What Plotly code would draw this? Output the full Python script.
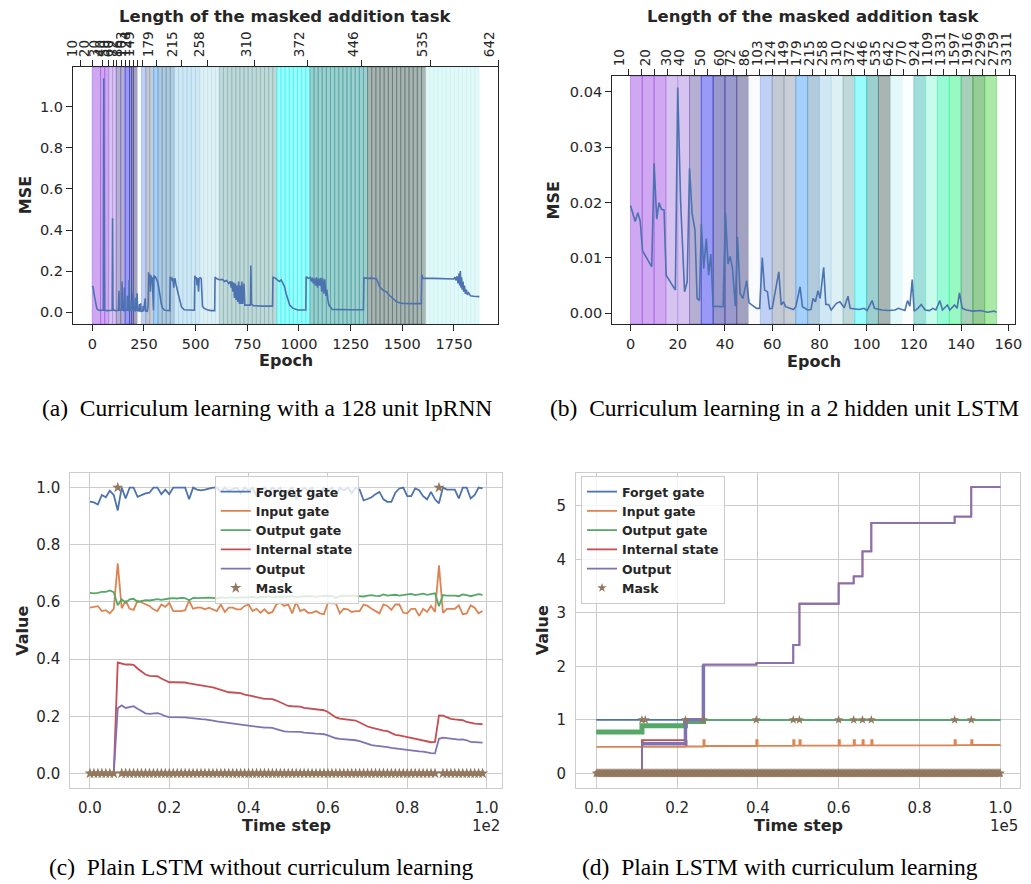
import numpy as np
import plotly.graph_objects as go

W, H = 1031, 884
FONT = "DejaVu Sans"
TXT = "#262626"
SERIF = "Liberation Serif"

# ---------------- colours of the curriculum stages (matplotlib-like, alpha 0.5) -------------
band_colors = ["#a151e5", "#a151e5", "#a151e5", "#ad87e1", "#ad87e1", "#6b5fa7", "#3333f1",
               "#313199", "#353599", "#474381", "#f5f7ff", "#81a1eb", "#8793a7", "#919dad",
               "#4ba1f7", "#6395b9", "#a1d1e9", "#bfe1eb", "#81b1b1", "#33f7f7", "#399f9b",
               "#516b67", "#c7f3f3", "#f7fdff", "#43bdb5", "#91f7d9", "#33f7ad", "#33f387",
               "#519f73", "#2d992d", "#57d351"]

# ---------------- (a) 128 unit lpRNN ----------------
a_epoch = [0, 4, 10, 16, 22, 30, 45, 53, 55, 57, 60, 70, 85, 96, 98, 100, 104, 115, 126, 129,
           131, 140, 142, 144, 146, 153, 155, 157, 166, 168, 170, 172, 177, 178, 180, 188, 189, 191, 198, 200,
           207, 209, 211, 217, 219, 226, 228, 230, 234, 236, 244, 246, 248, 256, 258, 266,
           270, 272, 275, 278, 281, 284, 287, 290, 293, 296, 298, 301, 305, 309, 313, 318, 322, 328, 334, 340, 350, 365, 375,
           377, 381, 384, 387, 390, 394, 397, 400, 404, 408, 412, 418, 425, 432, 445, 470, 494,
           496, 500, 504, 507, 510, 514, 517, 522, 527, 531, 533, 540, 555, 575, 592,
           594, 600, 610, 620, 630, 640, 650, 660, 668, 672, 676, 680, 684, 688, 692, 696, 700, 704, 708, 712,
           716, 720, 724, 728, 734, 738, 745, 765, 767, 770, 780, 800, 830, 872,
           874, 882, 895, 905, 914, 922, 930, 938, 946, 955, 970, 994, 1033,
           1035, 1045, 1055, 1060, 1065, 1070, 1075, 1080, 1085, 1090, 1095, 1100, 1105, 1110, 1115, 1120, 1125, 1130, 1135, 1140,
           1145, 1161, 1200, 1250, 1312,
           1314, 1330, 1350, 1375, 1391, 1410, 1423, 1435, 1447, 1460, 1471, 1490, 1503, 1550, 1592,
           1594, 1600, 1650, 1700, 1730, 1749, 1755, 1760, 1765, 1770, 1775, 1778, 1781, 1784, 1787, 1790, 1794, 1797, 1801, 1805,
           1810, 1815, 1821, 1830, 1845, 1860, 1873]
a_mse = [.128, .12, .08, .04, .018, .01, .008, .01, 1.138, .02, .01, .008, .008, .01, .457, .02, .01, .008, .01, .105,
         .01, .008, .01, .15, .012, .008, .12, .01, .008, .01, .08, .01, .008, .157, .01, .008, .06, .008, .097, .01,
         .007, .07, .008, .092, .008, .006, .04, .006, .044, .005, .006, .03, .005, .068, .006, .005,
         .03, .195, .15, .185, .1, .18, .14, .17, .06, .01, .18, .17, .172, .165, .155, .14, .12, .08, .04, .02, .01, .008, .008,
         .173, .16, .17, .15, .165, .12, .16, .165, .14, .11, .105, .08, .05, .025, .012, .01, .01,
         .178, .165, .17, .13, .165, .1, .165, .168, .165, .1, .03, .02, .012, .008, .008,
         .172, .165, .16, .158, .16, .15, .155, .14, .15, .12, .15, .1, .145, .07, .14, .06, .13, .05, .15, .04,
         .13, .04, .15, .04, .14, .035, .035, .035, .227, .04, .032, .03, .03, .03,
         .17, .168, .16, .15, .157, .14, .125, .09, .06, .035, .02, .011, .011,
         .173, .165, .17, .15, .168, .14, .165, .13, .17, .12, .165, .13, .168, .1, .165, .09, .16, .08, .11, .06,
         .035, .014, .012, .012, .012,
         .168, .165, .166, .163, .123, .105, .1, .085, .073, .06, .052, .045, .043, .042, .042,
         .182, .166, .165, .163, .165, .162, .17, .155, .175, .14, .19, .13, .201, .12, .17, .11, .15, .1, .13, .09,
         .11, .085, .095, .08, .078, .076, .076]
assert len(a_epoch) == len(a_mse)

a_stage_start = [0, 40, 60, 79, 98, 116, 159, 180, 190, 199, 218, 238, 259, 278, 297, 318, 397, 520, 615, 893, 1053, 1332, 1613]
a_stage_end = [40, 60, 79, 98, 116, 159, 180, 190, 199, 218, 238, 259, 278, 297, 318, 397, 520, 615, 893, 1053, 1332, 1613, 1871]
a_stage_color = [0, 1, 2, 3, 4, 5, 6, 7, 8, 9, 10, 11, 12, 13, 14, 15, 16, 17, 18, 19, 20, 21, 22]
a_stage_nsub = [1, 1, 1, 1, 1, 2, 1, 1, 1, 1, 1, 1, 1, 1, 1, 4, 6, 5, 14, 8, 14, 14, 13]

a_top_ticks = [-58.7, 0, 47.7, 79.6, 100.1, 119.2, 139.7, 158.8, 179.8, 198.9, 219.4, 243.2,
               310, 429.2, 559.4, 783.5, 1043, 1303.3, 1635.7, 1963.3]
a_top_labels = ["10", "20", "30", "40", "50", "60", "72", "86", "103", "124", "149", "",
                "179", "215", "258", "310", "372", "446", "535", "642"]

# ---------------- (b) 2 hidden unit LSTM ----------------
b_epoch = [0, 2.0, 3.1, 4.1, 5.1, 9.0, 10.0, 11.1, 12.1, 13.1,
           14.2, 15.1, 19.0, 20.0, 21.2, 22.9, 24.0, 25.0, 26.1, 27.3,
           28.2, 29.2, 30.0, 31.0, 32.1, 33.1, 34.0, 35.0, 39.2, 40.2,
           41.3, 42.2, 43.2, 44.4, 45.3, 46.4, 47.6, 49.2, 50.2, 53.4,
           54.7, 55.8, 56.8, 58.0, 58.9, 60.0, 62.8, 63.8, 64.8, 65.7,
           69.0, 70.0, 71.8, 72.8, 75.0, 76.4, 77.3, 78.3, 79.4, 80.3,
           81.8, 82.7, 83.9, 85.0, 87.2, 88.7, 90.5, 92.1, 93.0, 96.8,
           98.9, 100.2, 102.3, 103.3, 106.4, 109.2, 112.0, 113.4, 116.2, 117.3,
           118.3, 119.3, 120.1, 121.7, 123.1, 124.8, 126.6, 128.0, 129.3, 131.0,
           132.1, 134.2, 135.2, 137.2, 138.3, 139.3, 140.5, 142.2, 145.0, 148.3,
           151.1, 153.9, 155.0]
b_mse = [0.0195, 0.0166, 0.0182, 0.0167, 0.0113, 0.0084, 0.0271, 0.0170, 0.0200, 0.0188,
         0.0187, 0.0069, 0.0042, 0.0408, 0.0204, 0.0039, 0.0057, 0.0262, 0.0180, 0.0151,
         0.0027, 0.0023, 0.0162, 0.0081, 0.0135, 0.0069, 0.0107, 0.0013, 0.0012, 0.0182,
         0.0089, 0.0103, 0.0081, 0.0013, 0.0138, 0.0036, 0.0027, 0.0059, 0.0019, 0.0009,
         0.0009, 0.0101, 0.0042, 0.0039, 0.0008, 0.0009, 0.0075, 0.0015, 0.0021, 0.0012,
         0.0007, 0.0012, 0.0048, 0.0012, 0.0006, 0.0007, 0.0027, 0.0021, 0.0041, 0.0027,
         0.0083, 0.0016, 0.0016, 0.0006, 0.0018, 0.0021, 0.0010, 0.0031, 0.0009, 0.0007,
         0.0009, 0.0005, 0.0023, 0.0009, 0.0006, 0.0005, 0.0006, 0.0009, 0.0005, 0.0023,
         0.0013, 0.0061, 0.0004, 0.0009, 0.0016, 0.0006, 0.0005, 0.0009, 0.0006, 0.0023,
         0.0006, 0.0015, 0.0006, 0.0015, 0.0009, 0.0037, 0.0009, 0.0006, 0.0004, 0.0005,
         0.0002, 0.0004, 0.0002]
assert len(b_epoch) == len(b_mse)

b_band_edges = [0, 5, 10, 15, 20, 25, 30, 35, 40, 45, 50, 55, 60, 65, 70, 75, 80, 85, 90, 95, 100,
                105, 110, 115, 120, 125, 130, 135, 140, 145, 150, 155]
b_band_color = list(range(31))

b_top_ticks = [-0.8, 4.7, 10.3, 15.8, 21.4, 26.9, 32.5, 38.1, 43.6, 49.2, 54.7, 60.3, 65.8, 71.4, 76.9,
               82.5, 88.1, 93.6, 99.2, 104.7, 110.3, 115.8, 121.4, 126.9, 132.5, 138.1, 143.6, 149.2, 154.7, 160.3]
b_top_label_pos = [-4.6, 6.5, 15.4, 20.7, 29.6, 37.9, 42.5, 48.2, 53.75, 59.3, 64.9, 70.4, 76.0, 81.5,
                   87.1, 92.6, 98.2, 103.8, 109.3, 114.9, 120.4, 126.0, 131.5, 137.1, 142.6, 148.2, 153.7, 159.3]
b_top_labels = ["10", "20", "30", "40", "50", "60", "72", "86", "103", "124", "149", "179", "215", "258",
                "310", "372", "446", "535", "642", "770", "924", "1109", "1331", "1597", "1916", "2299", "2759", "3311"]

# ---------------- (c) plain LSTM without curriculum ----------------
c_t = list(range(100))
c_forget = [0.951, 0.948, 0.941, 0.974, 0.966, 0.989, 0.974, 0.920, 1.0, 0.962,
            1.0, 1.0, 0.968, 0.974, 0.980, 0.982, 1.0, 1.0, 0.977, 0.993,
            0.977, 1.0, 1.0, 1.0, 1.0, 0.959, 1.0, 0.993, 0.990, 0.993,
            0.996, 1.0, 1.0, 0.985, 1.0, 0.990, 0.995, 1.0, 0.980, 1.0,
            0.990, 1.0, 0.970, 0.995, 1.0, 0.985, 1.0, 0.990, 1.0, 0.975,
            0.990, 1.0, 0.960, 0.985, 1.0, 0.990, 1.0, 0.965, 0.980, 1.0,
            0.990, 1.0, 0.970, 1.0, 0.990, 1.0, 0.980, 1.0, 0.993, 0.955,
            0.960, 0.966, 0.977, 0.985, 0.959, 0.950, 0.950, 0.982, 0.997, 1.0,
            0.970, 0.970, 0.997, 0.991, 0.970, 0.959, 0.985, 0.959, 0.945, 1.0,
            0.993, 0.993, 0.993, 0.962, 1.0, 1.0, 0.962, 0.974, 1.0, 0.997]
c_input = [0.580, 0.583, 0.585, 0.568, 0.571, 0.560, 0.576, 0.735, 0.578, 0.604,
           0.576, 0.572, 0.604, 0.598, 0.591, 0.586, 0.574, 0.568, 0.591, 0.583,
           0.597, 0.568, 0.568, 0.568, 0.571, 0.604, 0.576, 0.580, 0.580, 0.574,
           0.580, 0.574, 0.568, 0.591, 0.565, 0.580, 0.580, 0.574, 0.574, 0.586,
           0.591, 0.568, 0.576, 0.562, 0.574, 0.560, 0.565, 0.591, 0.597, 0.586,
           0.591, 0.560, 0.600, 0.568, 0.574, 0.562, 0.562, 0.568, 0.560, 0.557,
           0.597, 0.595, 0.595, 0.560, 0.576, 0.574, 0.565, 0.568, 0.568, 0.591,
           0.586, 0.576, 0.568, 0.560, 0.591, 0.586, 0.572, 0.591, 0.591, 0.562,
           0.560, 0.576, 0.576, 0.551, 0.576, 0.565, 0.586, 0.565, 0.728, 0.562,
           0.576, 0.576, 0.576, 0.588, 0.557, 0.560, 0.588, 0.580, 0.560, 0.568]
c_outgate = [0.632, 0.630, 0.632, 0.635, 0.635, 0.640, 0.634, 0.588, 0.609, 0.597,
             0.609, 0.611, 0.600, 0.604, 0.606, 0.605, 0.608, 0.610, 0.607, 0.610,
             0.612, 0.613, 0.612, 0.614, 0.613, 0.606, 0.614, 0.613, 0.614, 0.613,
             0.615, 0.614, 0.612, 0.616, 0.614, 0.615, 0.616, 0.614, 0.617, 0.615,
             0.616, 0.618, 0.614, 0.618, 0.617, 0.619, 0.616, 0.618, 0.619, 0.617,
             0.618, 0.620, 0.616, 0.618, 0.620, 0.619, 0.621, 0.618, 0.620, 0.621,
             0.620, 0.621, 0.614, 0.620, 0.622, 0.620, 0.622, 0.621, 0.620, 0.619,
             0.622, 0.624, 0.621, 0.620, 0.626, 0.622, 0.624, 0.625, 0.622, 0.624,
             0.626, 0.628, 0.624, 0.627, 0.629, 0.625, 0.628, 0.630, 0.585, 0.624,
             0.622, 0.623, 0.622, 0.620, 0.626, 0.624, 0.620, 0.624, 0.627, 0.625]
c_internal = [0, 0, 0, 0, 0, 0, 0, .388, .385, .381,
              .381, .38, .367, .355, .346, .341, .341, .34, .332, .325,
              .319, .319, .319, .319, .318, .315, .313, .31, .308, .306,
              .304, .301, .297, .292, .287, .284, .283, .283, .281, .276,
              .272, .27, .267, .263, .261, .261, .26, .255, .249, .242,
              .236, .235, .235, .234, .229, .227, .225, .223, .222, .221,
              .215, .205, .196, .192, .19, .188, .187, .185, .178, .17,
              .164, .16, .156, .153, .15, .148, .142, .135, .133, .131,
              .127, .124, .121, .117, .114, .11, .109, .11, .203, .202,
              .197, .191, .189, .188, .186, .18, .176, .174, .173, .172]
c_output = [0, 0, 0, 0, 0, 0, 0, .228, .238, .229,
            .233, .235, .226, .218, .21, .208, .21, .211, .207, .2,
            .197, .197, .197, .197, .196, .194, .192, .191, .19, .189,
            .188, .185, .182, .18, .179, .177, .175, .174, .172, .168,
            .166, .164, .162, .161, .16, .16, .159, .155, .151, .147,
            .146, .146, .145, .145, .143, .141, .14, .139, .138, .137,
            .133, .128, .123, .121, .12, .119, .118, .116, .113, .108,
            .102, .099, .097, .096, .095, .092, .089, .087, .085, .083,
            .082, .08, .078, .077, .076, .073, .071, .07, .121, .125,
            .123, .12, .118, .118, .119, .116, .11, .109, .108, .108]
c_mask_ones = [7, 88]
c_mask = [1.0 if t in c_mask_ones else 0.0 for t in c_t]

# ---------------- (d) plain LSTM with curriculum ----------------
d_forget_t = [0, 100000]
d_forget = [1.0, 1.0]
d_input_t = [0, 11310, 11610, 22070, 22370, 26510, 26810, 39610, 39910, 48750, 49050, 50280, 50580,
             59980, 60280, 63700, 64000, 65880, 66180, 68070, 68370, 88680, 88980, 92800, 93100, 100000]
d_input = [0.495, 0.60, 0.495, 0.60, 0.50, 0.62, 0.51, 0.62, 0.512, 0.62, 0.515, 0.62, 0.515,
           0.62, 0.518, 0.62, 0.52, 0.62, 0.52, 0.62, 0.52, 0.62, 0.525, 0.62, 0.528, 0.53]
d_gate_t = [0, 11310, 22070, 26510, 100000]
d_outgate = [0.77, 0.89, 0.97, 1.0, 1.0]
d_out_t = [0, 11310, 22070, 26510, 39610, 48750, 50280, 59980, 63700, 65880, 68070, 88680, 92800, 100000]
d_internal = [0.0, 0.62, 1.0, 2.03, 2.06, 2.40, 3.17, 3.55, 3.68, 4.15, 4.68, 4.80, 5.35, 5.35]
d_output = [0.0, 0.55, 1.0, 2.03, 2.06, 2.40, 3.17, 3.55, 3.68, 4.15, 4.68, 4.80, 5.35, 5.35]
d_mask_ones = [11310, 12120, 22070, 26510, 39610, 48750, 50280, 59980, 63700, 65880, 68070, 88680, 92800]
d_steps = np.arange(0, 100001, 200)

SB = {"blue": "#4c72b0", "orange": "#dd8452", "green": "#55a868", "red": "#c44e52",
      "purple": "#8172b3", "brown": "#937860"}


def rgba(h, a):
    h = h.lstrip('#')
    return "rgba(%d,%d,%d,%s)" % (int(h[0:2], 16), int(h[2:4], 16), int(h[4:6], 16), a)


def px_x(p):
    return p / W


def px_y(p):
    return 1 - p / H


# subplot boxes (pixels)
A_X, A_Y = (65, 497), (67, 324)
B_X, B_Y = (612.7, 1021.7), (76, 324)
C_X, C_Y = (62.3, 501), (473.3, 787.7)
D_X, D_Y = (576, 1027.3), (472.7, 787.7)


def dom_x(b):
    return [px_x(b[0]), px_x(b[1])]


def dom_y(b):
    return [px_y(b[1]), px_y(b[0])]


A_XR = [-93.5, 1964.5]
A_YR = [-0.057, 1.193]
B_XR = [-7.75, 162.75]
B_YR = [-0.00193, 0.04289]
C_XR = [-4.95, 103.95]
C_YR = [-0.05, 1.05]
D_XR = [-5000, 104950]
D_YR = [-0.27, 5.62]

fig = go.Figure()

# (a)
fig.add_trace(go.Scatter(x=a_epoch, y=a_mse, mode='lines', line=dict(color=SB["blue"], width=1.6),
                         xaxis='x', yaxis='y', showlegend=False, hoverinfo='skip'))
fig.add_trace(go.Scatter(x=A_XR, y=[None, None], mode='lines', xaxis='x5', yaxis='y', showlegend=False, hoverinfo='skip'))
# (b)
fig.add_trace(go.Scatter(x=b_epoch, y=b_mse, mode='lines', line=dict(color=SB["blue"], width=1.6),
                         xaxis='x2', yaxis='y2', showlegend=False, hoverinfo='skip'))
fig.add_trace(go.Scatter(x=B_XR, y=[None, None], mode='lines', xaxis='x6', yaxis='y2', showlegend=False, hoverinfo='skip'))
fig.add_trace(go.Scatter(x=B_XR, y=[None, None], mode='lines', xaxis='x7', yaxis='y2', showlegend=False, hoverinfo='skip'))

# (c)
for name, vals, col in [("Forget gate", c_forget, SB["blue"]), ("Input gate", c_input, SB["orange"]),
                        ("Output gate", c_outgate, SB["green"]), ("Internal state", c_internal, SB["red"]),
                        ("Output", c_output, SB["purple"])]:
    fig.add_trace(go.Scatter(x=c_t, y=vals, mode='lines', name=name, line=dict(color=col, width=1.8),
                             xaxis='x3', yaxis='y3', legend='legend', hoverinfo='skip'))
fig.add_trace(go.Scatter(x=c_t, y=c_mask, mode='markers', name="Mask",
                         marker=dict(symbol='star', size=8.5, color=SB["brown"]),
                         xaxis='x3', yaxis='y3', legend='legend', hoverinfo='skip'))

# (d)
fig.add_trace(go.Scatter(x=d_forget_t, y=d_forget, mode='lines', name="Forget gate", line=dict(color=SB["blue"], width=1.8),
                         xaxis='x4', yaxis='y4', legend='legend2', hoverinfo='skip'))
fig.add_trace(go.Scatter(x=d_input_t, y=d_input, mode='lines', name="Input gate", line=dict(color=SB["orange"], width=1.8, shape='hv'),
                         xaxis='x4', yaxis='y4', legend='legend2', hoverinfo='skip'))
fig.add_trace(go.Scatter(x=d_gate_t[:4], y=d_outgate[:4], mode='lines', line=dict(color=SB["green"], width=5, shape='hv'),
                         xaxis='x4', yaxis='y4', showlegend=False, hoverinfo='skip'))
fig.add_trace(go.Scatter(x=d_gate_t, y=d_outgate, mode='lines', name="Output gate", line=dict(color=SB["green"], width=1.8, shape='hv'),
                         xaxis='x4', yaxis='y4', legend='legend2', hoverinfo='skip'))
fig.add_trace(go.Scatter(x=d_out_t, y=d_internal, mode='lines', name="Internal state", line=dict(color=SB["red"], width=1.8, shape='hv'),
                         xaxis='x4', yaxis='y4', legend='legend2', hoverinfo='skip'))
fig.add_trace(go.Scatter(x=d_out_t[1:4], y=d_output[1:4], mode='lines', line=dict(color=SB["purple"], width=3.5, shape='hv'),
                         xaxis='x4', yaxis='y4', showlegend=False, hoverinfo='skip'))
fig.add_trace(go.Scatter(x=d_out_t, y=d_output, mode='lines', name="Output", line=dict(color=SB["purple"], width=1.8, shape='hv'),
                         xaxis='x4', yaxis='y4', legend='legend2', hoverinfo='skip'))
fig.add_trace(go.Scatter(x=d_steps, y=np.zeros(len(d_steps)), mode='markers',
                         marker=dict(symbol='star', size=7, color=SB["brown"]),
                         xaxis='x4', yaxis='y4', showlegend=False, hoverinfo='skip'))
fig.add_trace(go.Scatter(x=d_mask_ones, y=[1.0] * len(d_mask_ones), mode='markers', name="Mask",
                         marker=dict(symbol='star', size=7, color=SB["brown"]),
                         xaxis='x4', yaxis='y4', legend='legend2', hoverinfo='skip'))

# ---- band shapes ----
shapes = []
for s, e, ci, n in zip(a_stage_start, a_stage_end, a_stage_color, a_stage_nsub):
    step = (e - s) / n
    for k in range(n):
        shapes.append(dict(type='rect', xref='x', yref='y domain', x0=s + k * step, x1=s + (k + 1) * step,
                           y0=0, y1=1, fillcolor=rgba(band_colors[ci], 0.5),
                           line=dict(color=rgba(band_colors[ci], 0.5), width=1), layer='below'))
for i, ci in enumerate(b_band_color):
    shapes.append(dict(type='rect', xref='x2', yref='y2 domain', x0=b_band_edges[i], x1=b_band_edges[i + 1],
                       y0=0, y1=1, fillcolor=rgba(band_colors[ci], 0.5),
                       line=dict(color=rgba(band_colors[ci], 0.5), width=1), layer='below'))

tickfont_a = dict(family=FONT, size=14.5, color=TXT)


def spine_axis(**kw):
    d = dict(showline=True, linecolor=TXT, linewidth=1.25, ticks='outside', ticklen=6, tickwidth=1.25,
             tickcolor=TXT, showgrid=False, zeroline=False, tickfont=tickfont_a, type='linear')
    d.update(kw)
    return d


def grid_axis(**kw):
    d = dict(showline=True, mirror=True, linecolor='#cccccc', linewidth=1.25, showgrid=True,
             gridcolor='#cccccc', gridwidth=1, zeroline=False, ticks='', ticklabelstandoff=6,
             tickfont=dict(family=FONT, size=15, color=TXT), type='linear')
    d.update(kw)
    return d


top_font = dict(family=FONT, size=13.5, color=TXT)
legend_common = dict(xanchor='left', yanchor='top', bgcolor='rgba(255,255,255,0.8)',
                     bordercolor='#cccccc', borderwidth=1, tracegroupgap=0, itemwidth=30,
                     font=dict(family=FONT, size=12.5, color=TXT, weight='bold'))

layout = dict(
    width=W, height=H, autosize=False, margin=dict(l=0, r=0, t=0, b=0),
    paper_bgcolor='white', plot_bgcolor='white', shapes=shapes,
    xaxis=spine_axis(domain=dom_x(A_X), range=A_XR, anchor='y', tick0=0, dtick=250),
    yaxis=spine_axis(domain=dom_y(A_Y), range=A_YR, anchor='x', tick0=0, dtick=0.2, tickformat='.1f', mirror=True),
    xaxis5=spine_axis(overlaying='x', anchor='y', side='top', range=A_XR, tickmode='array',
                      tickvals=a_top_ticks, ticktext=a_top_labels, tickangle=-90, ticklabelshift=-8,
                      tickfont=top_font),
    xaxis2=spine_axis(domain=dom_x(B_X), range=B_XR, anchor='y2', tick0=0, dtick=20),
    yaxis2=spine_axis(domain=dom_y(B_Y), range=B_YR, anchor='x2', tick0=0, dtick=0.01, tickformat='.2f', mirror=True),
    xaxis6=spine_axis(overlaying='x2', anchor='y2', side='top', range=B_XR, tickmode='array',
                      tickvals=b_top_ticks, showticklabels=False),
    xaxis7=spine_axis(overlaying='x2', anchor='y2', side='top', range=B_XR, tickmode='array', showline=False,
                      tickvals=b_top_label_pos, ticktext=b_top_labels, tickangle=-90,
                      tickcolor='rgba(0,0,0,0)', tickfont=top_font),
    xaxis3=grid_axis(domain=dom_x(C_X), range=C_XR, anchor='y3', tickmode='array',
                     tickvals=[0, 20, 40, 60, 80, 100], ticktext=['0.0', '0.2', '0.4', '0.6', '0.8', '1.0']),
    yaxis3=grid_axis(domain=dom_y(C_Y), range=C_YR, anchor='x3', tick0=0, dtick=0.2, tickformat='.1f'),
    xaxis4=grid_axis(domain=dom_x(D_X), range=D_XR, anchor='y4', tickmode='array',
                     tickvals=[0, 20000, 40000, 60000, 80000, 100000],
                     ticktext=['0.0', '0.2', '0.4', '0.6', '0.8', '1.0']),
    yaxis4=grid_axis(domain=dom_y(D_Y), range=D_YR, anchor='x4', tick0=0, dtick=1),
    legend=dict(x=px_x(209), y=px_y(476), **legend_common),
    legend2=dict(x=px_x(581), y=px_y(476), **legend_common),
)

ann = []


def text(x, y, s, size=16, bold=True, angle=0, xanchor='center', family=FONT):
    ann.append(dict(x=x, y=y, xref='paper', yref='paper', text=("<b>%s</b>" % s) if bold else s,
                    showarrow=False, textangle=angle, xanchor=xanchor, yanchor='middle',
                    font=dict(family=family, size=size, color=TXT if family == FONT else 'black')))


text(px_x((A_X[0] + A_X[1]) / 2), px_y(16), "Length of the masked addition task", size=16.5)
text(px_x((B_X[0] + B_X[1]) / 2), px_y(16), "Length of the masked addition task", size=16.5)
text(px_x(17), px_y((A_Y[0] + A_Y[1]) / 2), "MSE", angle=-90)
text(px_x(554), px_y((B_Y[0] + B_Y[1]) / 2), "MSE", angle=-90)
text(px_x((A_X[0] + A_X[1]) / 2), px_y(360), "Epoch")
text(px_x((B_X[0] + B_X[1]) / 2), px_y(361), "Epoch")
text(px_x(13.5), px_y((C_Y[0] + C_Y[1]) / 2), "Value", angle=-90)
text(px_x(541.5), px_y((D_Y[0] + D_Y[1]) / 2), "Value", angle=-90)
text(px_x((C_X[0] + C_X[1]) / 2), px_y(825.5), "Time step")
text(px_x((D_X[0] + D_X[1]) / 2), px_y(825.5), "Time step")
text(px_x(501), px_y(825.5), "1e2", size=15, bold=False, xanchor='right')
text(px_x(1027), px_y(825.5), "1e5", size=15, bold=False, xanchor='right')
text(px_x(262), px_y(408), "(a)\u00a0\u00a0Curriculum learning with a 128 unit lpRNN", size=23.5, bold=False, family=SERIF)
text(px_x(788), px_y(408), "(b)\u00a0\u00a0Curriculum learning in a 2 hidden unit LSTM", size=23.5, bold=False, family=SERIF)
text(px_x(256), px_y(867), "(c)\u00a0\u00a0Plain LSTM without curriculum learning", size=23.5, bold=False, family=SERIF)
text(px_x(783), px_y(867), "(d)\u00a0\u00a0Plain LSTM with curriculum learning", size=23.5, bold=False, family=SERIF)
layout['annotations'] = ann

fig.update_layout(**layout)
fig.write_html("out.html", config={"displayModeBar": False},
               post_script="document.body.style.margin='0';document.body.style.padding='0';"
                           "document.body.style.overflow='hidden';")
